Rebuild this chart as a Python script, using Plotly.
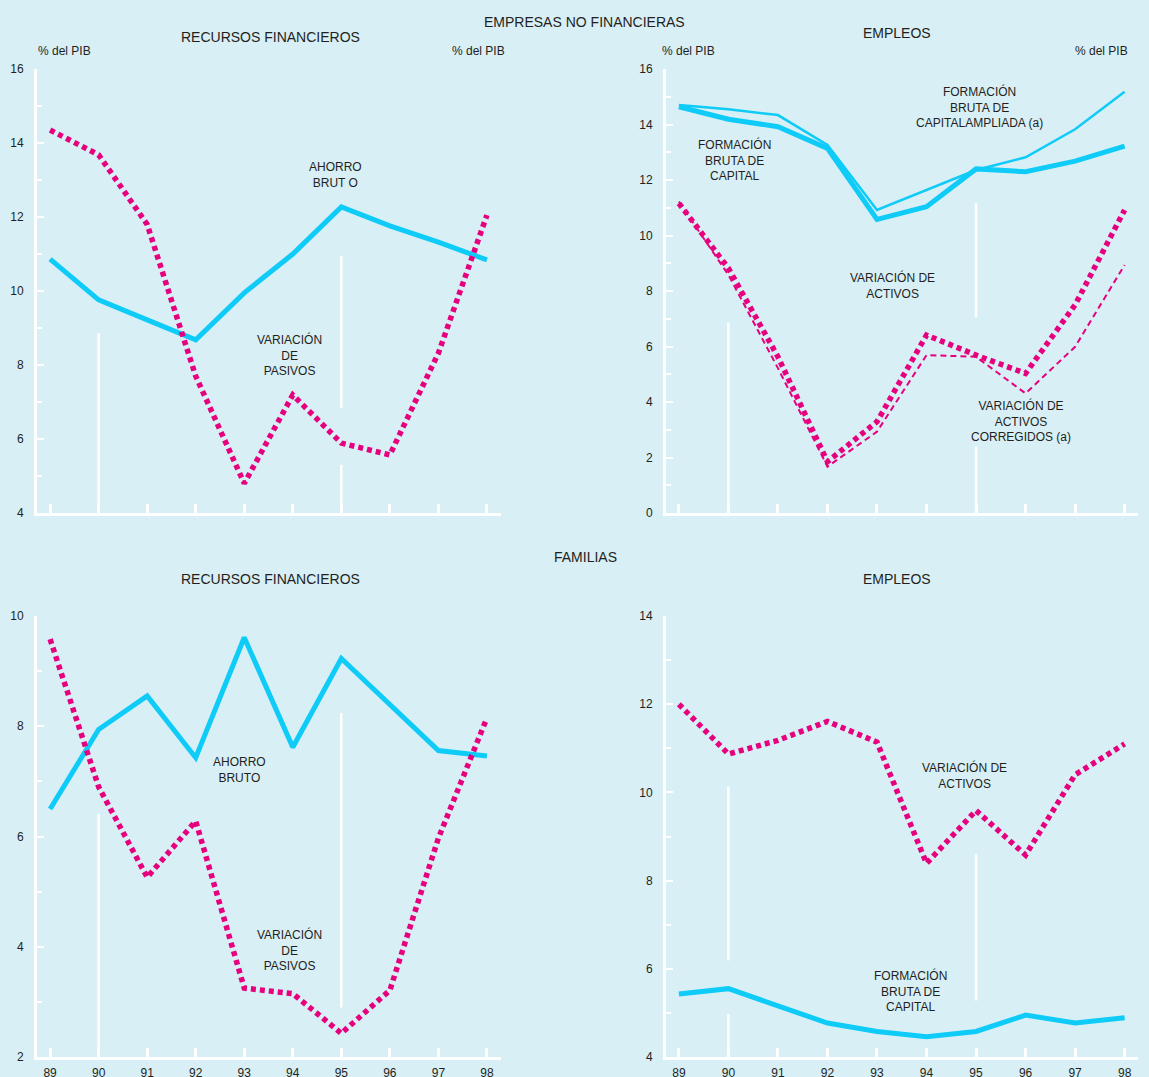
import plotly.graph_objects as go

# ---------------------------------------------------------------------------
# Data (% del PIB)
# ---------------------------------------------------------------------------
years = [89, 90, 91, 92, 93, 94, 95, 96, 97, 98]
year_labels = ["89", "90", "91", "92", "93", "94", "95", "96", "97", "98"]

# Empresas no financieras - recursos financieros
enf_ahorro_bruto = [10.86, 9.76, 9.22, 8.68, 9.95, 11.00, 12.27, 11.76, 11.32, 10.84]
enf_variacion_pasivos = [14.35, 13.68, 11.80, 7.70, 4.80, 7.19, 5.89, 5.57, 8.32, 12.05]

# Empresas no financieras - empleos
enf_fbc = [14.64, 14.19, 13.92, 13.14, 10.58, 11.04, 12.40, 12.30, 12.68, 13.22]
enf_fbc_ampliada = [14.70, 14.55, 14.34, 13.26, 10.92, 11.64, 12.36, 12.82, 13.83, 15.18]
enf_variacion_activos = [11.16, 8.82, 5.63, 1.85, 3.29, 6.41, 5.69, 5.03, 7.50, 10.92]
enf_activos_corregidos = [11.22, 8.58, 5.22, 1.67, 2.93, 5.69, 5.63, 4.31, 5.99, 8.94]

# Familias - recursos financieros
fam_ahorro_bruto = [6.50, 7.94, 8.55, 7.43, 9.61, 7.62, 9.23, 8.40, 7.56, 7.46]
fam_variacion_pasivos = [9.58, 6.90, 5.26, 6.28, 3.25, 3.15, 2.43, 3.21, 5.97, 8.15]

# Familias - empleos
fam_variacion_activos = [12.00, 10.87, 11.18, 11.61, 11.14, 8.39, 9.59, 8.58, 10.40, 11.10]
fam_fbc = [5.43, 5.55, 5.16, 4.77, 4.58, 4.46, 4.58, 4.95, 4.77, 4.89]

# ---------------------------------------------------------------------------
# Styling
# ---------------------------------------------------------------------------
W, H = 1149, 1077
BG = "#d9eff6"
CYAN = "#0fcbf7"
PINK = "#e6007e"
INK = "#231f20"
FONT = "Liberation Sans, Arial, sans-serif"

DOTS = "5px,4px"
DASHES = "6px,4px"


def px(xp):
    return xp / W


def py(yp):
    return 1 - yp / H


# panel layout: pixel box (left, right, top, bottom), x range, y range
panels = {
    "tl": dict(box=(37, 501, 69, 513), xr=(88.73, 98.29), yr=(4, 16), xlab=False),
    "tr": dict(box=(666, 1138, 69, 513), xr=(88.74, 98.27), yr=(0, 16), xlab=False),
    "bl": dict(box=(37, 501, 616, 1057), xr=(88.73, 98.29), yr=(2, 10), xlab=True),
    "br": dict(box=(666, 1138, 616, 1057), xr=(88.74, 98.27), yr=(4, 14), xlab=True),
}
order = ["tl", "tr", "bl", "br"]

fig = go.Figure()
layout = dict(
    width=W,
    height=H,
    autosize=False,
    margin=dict(l=0, r=0, t=0, b=0, pad=0, autoexpand=False),
    paper_bgcolor=BG,
    plot_bgcolor=BG,
    showlegend=False,
    font=dict(family=FONT, color=INK, size=12),
)

tick_font = dict(family=FONT, size=12, color=INK)


def y_axis(rng, **extra):
    d = dict(
        range=list(rng),
        showline=True,
        linecolor="white",
        linewidth=3,
        ticks="inside",
        tickcolor="white",
        ticklen=7,
        tickwidth=2,
        tick0=0,
        dtick=2,
        minor=dict(dtick=1, ticks="inside", ticklen=5, tickcolor="white", tickwidth=2),
        showgrid=False,
        zeroline=False,
        tickfont=tick_font,
        ticklabelstandoff=8,
        automargin=False,
        fixedrange=True,
    )
    d.update(extra)
    return d


for i, key in enumerate(order, start=1):
    p = panels[key]
    l, r, t, b = p["box"]
    xa = "xaxis" if i == 1 else f"xaxis{i}"
    ya = "yaxis" if i == 1 else f"yaxis{i}"
    layout[xa] = dict(
        domain=[px(l), px(r)],
        anchor="y" if i == 1 else f"y{i}",
        range=list(p["xr"]),
        showline=True,
        linecolor="white",
        linewidth=3,
        ticks="inside",
        tickcolor="white",
        ticklen=9,
        tickwidth=2.5,
        tickvals=years,
        ticktext=year_labels,
        showticklabels=p["xlab"],
        showgrid=False,
        zeroline=False,
        tickfont=tick_font,
        ticklabelstandoff=3,
        automargin=False,
        fixedrange=True,
    )
    layout[ya] = y_axis(p["yr"], domain=[py(b), py(t)], anchor="x" if i == 1 else f"x{i}")
    # mirrored scale on the right-hand side
    j = i + 4
    layout[f"yaxis{j}"] = y_axis(
        p["yr"],
        overlaying="y" if i == 1 else f"y{i}",
        anchor="x" if i == 1 else f"x{i}",
        side="right",
    )

fig.update_layout(**layout)


def axes_for(key):
    i = order.index(key) + 1
    return ("x" if i == 1 else f"x{i}"), ("y" if i == 1 else f"y{i}")


def add_line(key, values, color, width, dash="solid"):
    xr, yr = axes_for(key)
    fig.add_trace(
        go.Scatter(
            x=years,
            y=values,
            mode="lines",
            line=dict(color=color, width=width, dash=dash),
            xaxis=xr,
            yaxis=yr,
            hoverinfo="skip",
        )
    )


# Empresas no financieras - recursos
add_line("tl", enf_ahorro_bruto, CYAN, 5)
add_line("tl", enf_variacion_pasivos, PINK, 5.5, DOTS)
# Empresas no financieras - empleos
add_line("tr", enf_fbc_ampliada, CYAN, 2.5)
add_line("tr", enf_fbc, CYAN, 5)
add_line("tr", enf_activos_corregidos, PINK, 2, DASHES)
add_line("tr", enf_variacion_activos, PINK, 5.5, DOTS)
# Familias - recursos
add_line("bl", fam_ahorro_bruto, CYAN, 5)
add_line("bl", fam_variacion_pasivos, PINK, 5.5, DOTS)
# Familias - empleos
add_line("br", fam_fbc, CYAN, 5)
add_line("br", fam_variacion_activos, PINK, 5.5, DOTS)

# White reference rules at 1990 and 1995 (year, from, to)
rules = {
    "tl": [(90, 4, 8.86), (95, 6.84, 10.95), (95, 4, 5.30)],
    "tr": [(90, 0, 6.86), (95, 7.05, 11.16), (95, 0, 2.39)],
    "bl": [(90, 2, 6.41), (95, 2.90, 8.24)],
    "br": [(90, 6.19, 10.13), (90, 4, 4.97), (95, 5.28, 8.60)],
}
for key, segs in rules.items():
    xr, yr = axes_for(key)
    for yr_x, y0, y1 in segs:
        fig.add_shape(
            type="line",
            xref=xr,
            yref=yr,
            x0=yr_x,
            x1=yr_x,
            y0=y0,
            y1=y1,
            line=dict(color="white", width=2.5),
            layer="below",
        )

# Headings and labels (pixel centre positions)
texts = [
    ("EMPRESAS NO FINANCIERAS", 584, 22, 14),
    ("RECURSOS FINANCIEROS", 270, 37, 14),
    ("EMPLEOS", 897, 33, 14),
    ("FAMILIAS", 585, 557, 14),
    ("RECURSOS FINANCIEROS", 270, 579, 14),
    ("EMPLEOS", 897, 579, 14),
    ("% del PIB", 64, 51, 12),
    ("% del PIB", 478, 51, 12),
    ("% del PIB", 688, 51, 12),
    ("% del PIB", 1101, 51, 12),
    ("AHORRO<br>BRUT O", 335, 175, 12),
    ("VARIACIÓN<br>DE<br>PASIVOS", 289, 355, 12),
    ("FORMACIÓN<br>BRUTA DE<br>CAPITALAMPLIADA (a)", 979, 107, 12),
    ("FORMACIÓN<br>BRUTA DE<br>CAPITAL", 734, 160, 12),
    ("VARIACIÓN DE<br>ACTIVOS", 892, 285, 12),
    ("VARIACIÓN DE<br>ACTIVOS<br>CORREGIDOS (a)", 1021, 421, 12),
    ("AHORRO<br>BRUTO", 239, 770, 12),
    ("VARIACIÓN<br>DE<br>PASIVOS", 289, 950, 12),
    ("VARIACIÓN DE<br>ACTIVOS", 964, 775, 12),
    ("FORMACIÓN<br>BRUTA DE<br>CAPITAL", 910, 991, 12),
]
for txt, cx, cy, size in texts:
    fig.add_annotation(
        text=txt,
        x=px(cx),
        y=py(cy),
        xref="paper",
        yref="paper",
        xanchor="center",
        yanchor="middle",
        align="center",
        showarrow=False,
        font=dict(family=FONT, size=size, color=INK),
    )

fig.write_html(
    "out.html",
    config={"responsive": False, "displayModeBar": False},
    post_script="document.body.style.margin='0';document.body.style.overflow='hidden';",
)
